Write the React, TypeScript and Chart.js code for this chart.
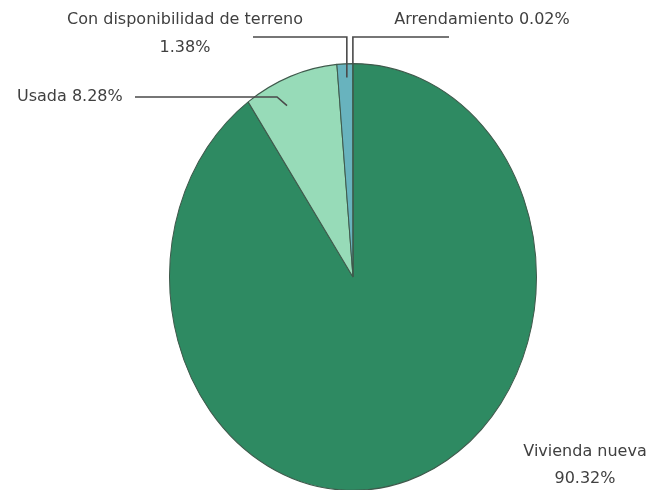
import React, { useEffect, useRef } from "react";
import { Chart, registerables } from "chart.js";

Chart.register(...registerables);

const categories = ["Vivienda nueva", "Usada", "Con disponibilidad de terreno", "Arrendamiento"];
const values = [90.32, 8.28, 1.38, 0.02];
const colors = ["#2e8a62", "#97dbb8", "#68b3be", "#2e8a62"];

const W = 659;
const H = 490;
const ELLIPSE_Y = 1.163; // vertical stretch of the pie

// label layout: text lines, text anchor, leader line spec
type LabelSpec = {
  twoLines: boolean;
  x: number;
  y: number;
  align: CanvasTextAlign;
  lineGap: number;
  leader?: { t: number; r: number; elbowY: number; elbowDx: number; endX: number; vertical: boolean };
};

const labelLayout: LabelSpec[] = [
  { twoLines: true, x: 585, y: 452, align: "center", lineGap: 27 },
  { twoLines: false, x: 17, y: 97, align: "left", lineGap: 0, leader: { t: 0.36, r: 0.88, elbowY: 97, elbowDx: -10, endX: 135, vertical: false } },
  { twoLines: true, x: 185, y: 20, align: "center", lineGap: 28, leader: { t: 0.6, r: 0.935, elbowY: 37, elbowDx: 0, endX: 253, vertical: true } },
  { twoLines: false, x: 482, y: 20, align: "center", lineGap: 0, leader: { t: 0.5, r: 1.0, elbowY: 37, elbowDx: 0, endX: 449, vertical: true } },
];

const fmt = (v: number) => v.toFixed(2) + "%";

const ellipsePlugin = {
  id: "ellipse",
  beforeDatasetsDraw(chart: any) {
    const arc = chart.getDatasetMeta(0).data[0];
    if (!arc) return;
    const ctx = chart.ctx;
    ctx.save();
    ctx.translate(arc.x, arc.y);
    ctx.scale(1, ELLIPSE_Y);
    ctx.translate(-arc.x, -arc.y);
  },
  afterDatasetsDraw(chart: any) {
    chart.ctx.restore();
  },
};

const labelPlugin = {
  id: "pieLabels",
  afterDraw(chart: any) {
    const ctx: CanvasRenderingContext2D = chart.ctx;
    const meta = chart.getDatasetMeta(0);
    ctx.save();
    ctx.font = '16px "DejaVu Sans"';
    ctx.fillStyle = "#404040";
    ctx.textBaseline = "middle";
    meta.data.forEach((arc: any, i: number) => {
      const spec = labelLayout[i];
      const name = categories[i];
      const val = fmt(values[i]);
      ctx.textAlign = spec.align;
      if (spec.twoLines) {
        ctx.fillText(name, spec.x, spec.y);
        ctx.fillText(val, spec.x, spec.y + spec.lineGap);
      } else {
        ctx.fillText(name + " " + val, spec.x, spec.y);
      }
      const L = spec.leader;
      if (L) {
        const a = arc.startAngle + L.t * (arc.endAngle - arc.startAngle);
        const px = arc.x + L.r * arc.outerRadius * Math.cos(a);
        const py = arc.y + L.r * arc.outerRadius * Math.sin(a) * ELLIPSE_Y;
        ctx.beginPath();
        ctx.strokeStyle = "#4a4a4a";
        ctx.lineWidth = 1.6;
        ctx.moveTo(px, py);
        if (L.vertical) {
          ctx.lineTo(px, L.elbowY);
        } else {
          ctx.lineTo(px + L.elbowDx, L.elbowY);
        }
        ctx.lineTo(L.endX, L.elbowY);
        ctx.stroke();
      }
    });
    ctx.restore();
  },
};

export default function App() {
  const ref = useRef<HTMLCanvasElement | null>(null);
  useEffect(() => {
    if (!ref.current) return;
    const chart = new Chart(ref.current, {
      type: "pie",
      data: {
        labels: categories,
        datasets: [
          {
            data: values,
            backgroundColor: colors,
            borderColor: "#3f5a4c",
            borderWidth: 1,
            clip: false as any,
          } as any,
        ],
      },
      options: {
        responsive: false,
        animation: false,
        layout: { padding: { left: 169, right: 122, top: 93, bottom: 29 } },
        plugins: {
          legend: { display: false },
          tooltip: { enabled: false },
        },
      },
      plugins: [ellipsePlugin, labelPlugin],
    });
    return () => chart.destroy();
  }, []);
  return (
    <div style={{ position: "fixed", left: 0, top: 0, width: W, height: H, background: "#fff" }}>
      <canvas ref={ref} width={W} height={H} style={{ width: W, height: H, display: "block" }} />
    </div>
  );
}
